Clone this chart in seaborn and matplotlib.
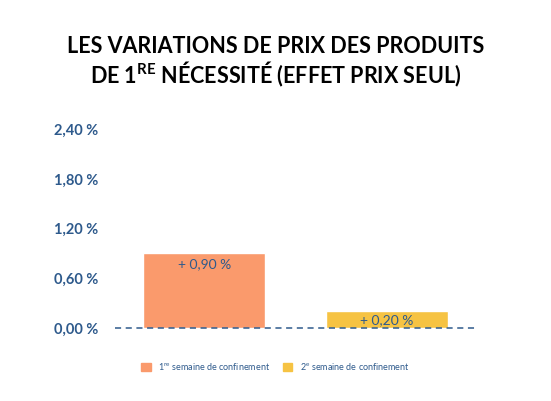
import matplotlib
matplotlib.use("Agg")
import matplotlib.pyplot as plt
import seaborn as sns
import pandas as pd
from matplotlib.patches import Patch

categories = ["1re semaine de confinement", "2e semaine de confinement"]
values = [0.90, 0.20]
labels = ["+ 0,90 %", "+ 0,20 %"]
yticks = [0.0, 0.6, 1.2, 1.8, 2.4]
ytick_labels = ["0,00 %", "0,60 %", "1,20 %", "1,80 %", "2,40 %"]
colors = ["#FA9A6C", "#F6C343"]
blue = "#2E5A8C"

sns.set_style("white")
plt.rcParams['font.family'] = ['Lato', 'DejaVu Sans']

df = pd.DataFrame({"cat": categories, "val": values})
fig = plt.figure(figsize=(5.51, 4.01), dpi=100)
ax = fig.add_axes([115/551, 0.182, 363/551, 207/401])
sns.barplot(data=df, x="cat", y="val", hue="cat", palette=colors, width=0.667,
            legend=False, ax=ax, saturation=1)
ax.set_xlim(-0.489, 1.5)
ax.set_ylim(0, 2.5)
for s in ax.spines.values():
    s.set_visible(False)
ax.axhline(0, color=blue, ls=(0, (4, 3)), lw=1.1, clip_on=False)
ax.set_yticks(yticks)
ax.set_yticklabels(ytick_labels, color=blue, fontsize=10.5, fontweight="bold")
ax.tick_params(axis="y", length=0, pad=12)
ax.set_xticks([])
ax.set_xlabel("")
ax.set_ylabel("")
ax.text(0, values[0] - 0.06, labels[0], ha="center", va="top", color=blue, fontsize=10)
ax.text(1, values[1] / 2, labels[1], ha="center", va="center", color=blue, fontsize=10)

fig.text(0.5, 0.885, "LES VARIATIONS DE PRIX DES PRODUITS", ha="center", va="center",
         fontsize=15.5, fontweight="bold", color="black")
fig.text(0.5, 0.815, r"DE 1$^{\mathregular{RE}}$ NÉCESSITÉ (EFFET PRIX SEUL)", ha="center", va="center",
         fontsize=15.5, fontweight="bold", color="black")

handles = [Patch(color=c) for c in colors]
leg_labels = [r"1$^{\mathregular{re}}$ semaine de confinement", r"2$^{\mathregular{e}}$ semaine de confinement"]
fig.legend(handles, leg_labels, loc="center", bbox_to_anchor=(0.5, 0.085), ncol=2,
           frameon=False, fontsize=6.5, handlelength=1, handleheight=1, columnspacing=1.5,
           labelcolor=blue)
fig.savefig("out.png", dpi=100)
